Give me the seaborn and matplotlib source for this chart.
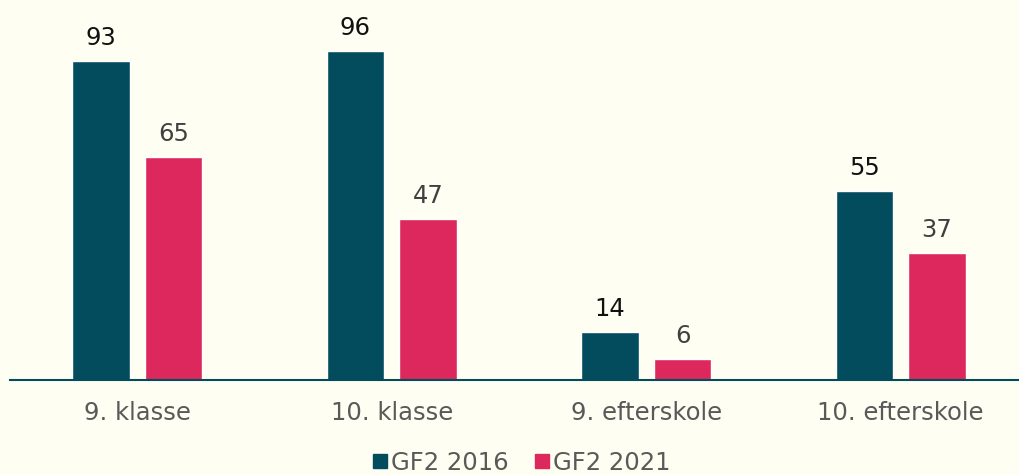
import matplotlib.pyplot as plt
import pandas as pd
import seaborn as sns
from matplotlib.lines import Line2D

categories = ["9. klasse", "10. klasse", "9. efterskole", "10. efterskole"]
series = ["GF2 2016", "GF2 2021"]
values_2016 = [93, 96, 14, 55]
values_2021 = [65, 47, 6, 37]

BG = "#FFFEF2"
PALETTE = ["#024C5E", "#DC285C"]
LABEL_COLORS = ["#111111", "#404040"]

df = pd.DataFrame({
    "kategori": categories * 2,
    "serie": [series[0]] * len(categories) + [series[1]] * len(categories),
    "antal": values_2016 + values_2021,
})

sns.set_style("white")
plt.rcParams["font.family"] = ["DejaVu Sans"]

fig = plt.figure(figsize=(10.2, 4.75), dpi=100, facecolor=BG)
ax = fig.add_axes([10 / 1020, 95 / 475, 1018 / 1020, 380 / 475])
ax.set_facecolor(BG)

sns.barplot(data=df, x="kategori", y="antal", hue="serie", palette=PALETTE,
            width=0.57, gap=0.21, saturation=1, legend=False, ax=ax)

for container, col in zip(ax.containers, LABEL_COLORS):
    ax.bar_label(container, padding=8, fontsize=17.5, color=col)

ax.set_ylim(0, 110.8)
ax.set_xlabel("")
ax.set_ylabel("")
ax.set_yticks([])
for side in ["top", "right", "left"]:
    ax.spines[side].set_visible(False)
ax.spines["bottom"].set_color("#024C5E")
ax.spines["bottom"].set_linewidth(1.5)
ax.tick_params(axis="x", length=0, pad=15, labelsize=17.5, labelcolor="#595959")

handles = [Line2D([], [], marker="s", linestyle="", markersize=10, color=c) for c in PALETTE]
fig.legend(handles, series, loc="center", bbox_to_anchor=(521 / 1020, 12 / 475), ncol=2,
           frameon=False, fontsize=17.5, labelcolor="#595959", handletextpad=0.1,
           columnspacing=1.0, handlelength=0.7)

fig.savefig("out.png", dpi=100, facecolor=BG)
